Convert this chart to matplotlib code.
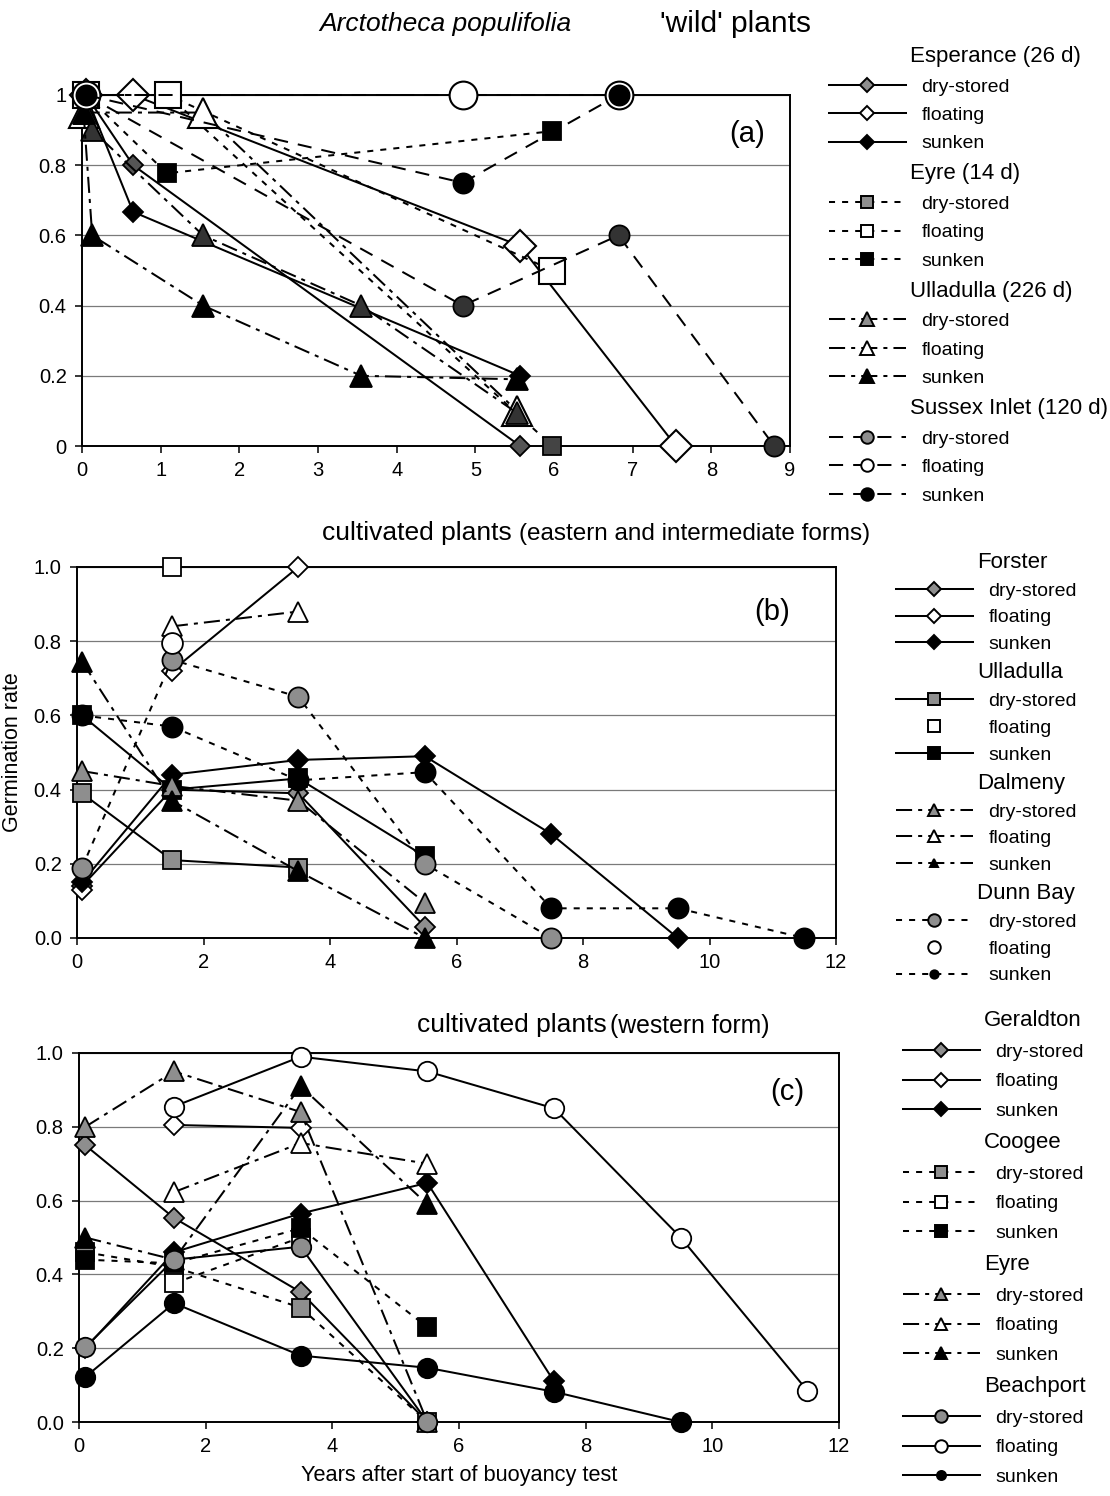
import matplotlib
matplotlib.use("Agg")
import matplotlib.pyplot as plt
from matplotlib.lines import Line2D

plt.rcParams['font.family'] = ['Liberation Sans', 'DejaVu Sans']

# ---------------- panel (a): 'wild' plants ----------------
a_esp_dry_x = [0.05, 0.65, 5.57]
a_esp_dry_y = [1.0, 0.8, 0.0]
a_esp_flo_x = [0.05, 0.65, 5.57, 7.55]
a_esp_flo_y = [1.0, 1.0, 0.57, 0.0]
a_esp_sun_x = [0.05, 0.65, 5.57]
a_esp_sun_y = [1.0, 0.667, 0.2]

a_eyr_dry_x = [0.05, 1.09, 5.98]
a_eyr_dry_y = [1.0, 1.0, 0.0]
a_eyr_flo_x = [0.05, 1.09, 5.98]
a_eyr_flo_y = [1.0, 1.0, 0.5]
a_eyr_sun_x = [0.05, 1.08, 5.98]
a_eyr_sun_y = [1.0, 0.777, 0.897]

a_ull_dry_x = [0.02, 0.13, 1.54, 3.55, 5.53]
a_ull_dry_y = [0.95, 0.9, 0.6, 0.4, 0.094]
a_ull_flo_x = [0.02, 1.54, 5.53]
a_ull_flo_y = [0.95, 0.95, 0.1]
a_ull_sun_x = [0.02, 0.13, 1.54, 3.55, 5.53]
a_ull_sun_y = [0.95, 0.6, 0.4, 0.2, 0.19]

a_sus_dry_x = [0.05, 4.84, 6.82, 8.8]
a_sus_dry_y = [1.0, 0.4, 0.6, 0.0]
a_sus_flo_x = [0.05, 4.84, 6.82]
a_sus_flo_y = [1.0, 1.0, 1.0]
a_sus_sun_x = [0.05, 4.84, 6.82]
a_sus_sun_y = [1.0, 0.75, 1.0]

# ---------------- panel (b): eastern / intermediate ----------------
b_for_dry_x = [0.08, 1.5, 3.5, 5.5]
b_for_dry_y = [0.14, 0.40, 0.39, 0.03]
b_for_flo_x = [0.08, 1.5, 3.5]
b_for_flo_y = [0.13, 0.72, 1.0]
b_for_sun_x = [0.08, 1.5, 3.5, 5.5, 7.5, 9.5]
b_for_sun_y = [0.15, 0.44, 0.48, 0.49, 0.28, 0.0]

b_ull_dry_x = [0.08, 1.5, 3.5]
b_ull_dry_y = [0.39, 0.21, 0.19]
b_ull_flo_x = [1.5]
b_ull_flo_y = [1.0]
b_ull_sun_x = [0.08, 1.5, 3.5, 5.5]
b_ull_sun_y = [0.6, 0.40, 0.43, 0.22]

b_dal_dry_x = [0.08, 1.5, 3.5, 5.5]
b_dal_dry_y = [0.45, 0.41, 0.37, 0.095]
b_dal_flo_x = [1.5, 3.5]
b_dal_flo_y = [0.84, 0.88]
b_dal_sun_x = [0.08, 1.5, 3.5, 5.5]
b_dal_sun_y = [0.745, 0.37, 0.18, 0.0]

b_dun_dry_x = [0.08, 1.5, 3.5, 5.5, 7.5]
b_dun_dry_y = [0.19, 0.75, 0.65, 0.2, 0.0]
b_dun_flo_x = [1.5]
b_dun_flo_y = [0.795]
b_dun_sun_x = [0.08, 1.5, 3.5, 5.5, 7.5, 9.5, 11.5]
b_dun_sun_y = [0.6, 0.57, 0.425, 0.447, 0.08, 0.08, 0.0]

# ---------------- panel (c): western form ----------------
c_ger_dry_x = [0.1, 1.5, 3.5, 5.5]
c_ger_dry_y = [0.75, 0.553, 0.352, 0.0]
c_ger_flo_x = [1.5, 3.5]
c_ger_flo_y = [0.805, 0.797]
c_ger_sun_x = [0.1, 1.5, 3.5, 5.5, 7.5]
c_ger_sun_y = [0.2, 0.46, 0.565, 0.648, 0.11]

c_coo_dry_x = [0.1, 1.5, 3.5, 5.5]
c_coo_dry_y = [0.46, 0.42, 0.31, 0.0]
c_coo_flo_x = [1.5, 3.5]
c_coo_flo_y = [0.376, 0.50]
c_coo_sun_x = [0.1, 1.5, 3.5, 5.5]
c_coo_sun_y = [0.44, 0.43, 0.525, 0.257]

c_eyr_dry_x = [0.1, 1.5, 3.5, 5.5]
c_eyr_dry_y = [0.80, 0.95, 0.84, 0.0]
c_eyr_flo_x = [1.5, 3.5, 5.5]
c_eyr_flo_y = [0.623, 0.756, 0.70]
c_eyr_sun_x = [0.1, 1.5, 3.5, 5.5]
c_eyr_sun_y = [0.50, 0.44, 0.91, 0.59]

c_bea_dry_x = [0.1, 1.5, 3.5, 5.5]
c_bea_dry_y = [0.203, 0.44, 0.475, 0.0]
c_bea_flo_x = [1.5, 3.5, 5.5, 7.5, 9.5, 11.5]
c_bea_flo_y = [0.855, 0.99, 0.95, 0.85, 0.5, 0.085]
c_bea_sun_x = [0.1, 1.5, 3.5, 5.5, 7.5, 9.5]
c_bea_sun_y = [0.122, 0.322, 0.18, 0.147, 0.082, 0.0]

treatments = ['dry-stored', 'floating', 'sunken']
GRAY = '#8e8e8e'
faces = {'dry-stored': GRAY, 'floating': 'white', 'sunken': 'black'}

SOLID = '-'
DOTS = (0, (3, 3.5))
DASHDOT = (0, (8, 3, 2, 3))
DASH = (0, (7, 5))

W, H = 1110, 1496
fig = plt.figure(figsize=(W / 100, H / 100), dpi=100)


def px_axes(x0, y0, x1, y1):
    return fig.add_axes([x0 / W, 1 - y1 / H, (x1 - x0) / W, (y1 - y0) / H])


def style_axes(ax, xmax, xstep, ylabels):
    ax.set_xlim(0, xmax)
    ax.set_ylim(0, 1)
    ax.set_xticks(range(0, xmax + 1, xstep))
    ax.set_yticks([0, 0.2, 0.4, 0.6, 0.8, 1.0])
    ax.set_yticklabels(ylabels)
    ax.yaxis.grid(True, color='#7a7a7a', lw=0.9)
    ax.set_axisbelow(True)
    ax.tick_params(direction='out', length=5, width=1.1, labelsize=14.5, pad=6)
    for s in ax.spines.values():
        s.set_linewidth(1.4)


def draw(ax, x, y, ls, marker, face, ms, mew=1.3, no_line=False):
    ax.plot(x, y, linestyle='none' if no_line else ls, color='black', lw=1.45,
            marker=marker, ms=ms, mfc=face, mec='black', mew=mew,
            clip_on=False, zorder=3)


def legend(ax, groups, x0, y0, spacing):
    handles, labels, heads = [], [], []
    for name, ls, marker, lms, noline in groups:
        heads.append(len(labels))
        handles.append(Line2D([], [], linestyle='none'))
        labels.append(name)
        for t in treatments:
            nl = t in noline
            handles.append(Line2D([], [], linestyle='none' if nl else ls, color='black', lw=1.45,
                                  marker=marker, ms=lms.get(t, lms['default']),
                                  mfc=faces[t], mec='black', mew=1.4))
            labels.append(t)
    leg = ax.legend(handles, labels, loc='upper left', bbox_to_anchor=(x0 / W, 1 - y0 / H),
                    bbox_transform=fig.transFigure, frameon=False, fontsize=14,
                    handlelength=3.95, handletextpad=0.8, labelspacing=spacing,
                    borderpad=0, borderaxespad=0)
    for i in heads:
        txt = leg.get_texts()[i]
        txt.set_fontsize(16)
        txt.set_position((-11, 0))
    return leg


# ---------------- (a) ----------------
ax_a = px_axes(82, 95, 790, 446)
style_axes(ax_a, 9, 1, ['0', '0.2', '0.4', '0.6', '0.8', '1'])

draw(ax_a, a_esp_dry_x, a_esp_dry_y, SOLID, 'D', '#555555', 10)
draw(ax_a, a_esp_flo_x, a_esp_flo_y, SOLID, 'D', 'white', 16, 1.5)
draw(ax_a, a_esp_sun_x, a_esp_sun_y, SOLID, 'D', 'black', 10)
draw(ax_a, a_eyr_dry_x, a_eyr_dry_y, DOTS, 's', '#444444', 13)
draw(ax_a, a_eyr_flo_x, a_eyr_flo_y, DOTS, 's', 'white', 19, 1.5)
draw(ax_a, a_eyr_sun_x, a_eyr_sun_y, DOTS, 's', 'black', 13)
draw(ax_a, a_ull_flo_x, a_ull_flo_y, DASHDOT, '^', 'white', 22, 1.5)
draw(ax_a, a_ull_dry_x, a_ull_dry_y, DASHDOT, '^', '#333333', 16)
draw(ax_a, a_ull_sun_x, a_ull_sun_y, DASHDOT, '^', 'black', 16)
draw(ax_a, a_sus_dry_x, a_sus_dry_y, DASH, 'o', '#333333', 14.5)
draw(ax_a, a_sus_flo_x, a_sus_flo_y, DASH, 'o', 'white', 20, 1.5)
draw(ax_a, a_sus_sun_x, a_sus_sun_y, DASH, 'o', 'black', 14.5)
ax_a.text(0.94, 0.89, '(a)', transform=ax_a.transAxes, fontsize=21, ha='center', va='center')

legend(ax_a, [('Esperance (26 d)', SOLID, 'D', {'default': 7}, ()),
              ('Eyre (14 d)', DOTS, 's', {'default': 9}, ()),
              ('Ulladulla (226 d)', DASHDOT, '^', {'default': 10}, ()),
              ('Sussex Inlet (120 d)', DASH, 'o', {'default': 9}, ())],
       829, 46, 0.56)

# ---------------- (b) ----------------
ax_b = px_axes(77, 567, 836, 938)
style_axes(ax_b, 12, 2, ['0.0', '0.2', '0.4', '0.6', '0.8', '1.0'])

draw(ax_b, b_for_dry_x, b_for_dry_y, SOLID, 'D', GRAY, 10)
# first floating reading stands alone (no joining segment in the original)
draw(ax_b, b_for_flo_x[:1], b_for_flo_y[:1], SOLID, 'D', 'white', 10, no_line=True)
draw(ax_b, b_for_flo_x[1:], b_for_flo_y[1:], SOLID, 'D', 'white', 10)
draw(ax_b, b_for_sun_x, b_for_sun_y, SOLID, 'D', 'black', 10)
draw(ax_b, b_ull_dry_x, b_ull_dry_y, SOLID, 's', GRAY, 13)
draw(ax_b, b_ull_flo_x, b_ull_flo_y, SOLID, 's', 'white', 13, no_line=True)
draw(ax_b, b_ull_sun_x, b_ull_sun_y, SOLID, 's', 'black', 13)
draw(ax_b, b_dal_dry_x, b_dal_dry_y, DASHDOT, '^', GRAY, 14)
draw(ax_b, b_dal_flo_x, b_dal_flo_y, DASHDOT, '^', 'white', 15)
draw(ax_b, b_dal_sun_x, b_dal_sun_y, DASHDOT, '^', 'black', 14)
draw(ax_b, b_dun_dry_x, b_dun_dry_y, DOTS, 'o', GRAY, 14.5)
draw(ax_b, b_dun_flo_x, b_dun_flo_y, DOTS, 'o', 'white', 15, no_line=True)
draw(ax_b, b_dun_sun_x, b_dun_sun_y, DOTS, 'o', 'black', 14.5)
ax_b.text(0.916, 0.88, '(b)', transform=ax_b.transAxes, fontsize=21, ha='center', va='center')
ax_b.set_ylabel('Germination rate', fontsize=15.5, labelpad=8)

legend(ax_b, [('Forster', SOLID, 'D', {'default': 7}, ()),
              ('Ulladulla', SOLID, 's', {'default': 9}, ('floating',)),
              ('Dalmeny', DASHDOT, '^', {'default': 9, 'sunken': 6}, ()),
              ('Dunn Bay', DOTS, 'o', {'default': 9, 'sunken': 6}, ('floating',))],
       896, 552, 0.47)

# ---------------- (c) ----------------
ax_c = px_axes(79, 1053, 839, 1422)
style_axes(ax_c, 12, 2, ['0.0', '0.2', '0.4', '0.6', '0.8', '1.0'])

draw(ax_c, c_ger_dry_x, c_ger_dry_y, SOLID, 'D', GRAY, 10.5)
draw(ax_c, c_ger_flo_x, c_ger_flo_y, SOLID, 'D', 'white', 10.5)
draw(ax_c, c_ger_sun_x, c_ger_sun_y, SOLID, 'D', 'black', 10.5)
draw(ax_c, c_coo_dry_x, c_coo_dry_y, DOTS, 's', GRAY, 13)
draw(ax_c, c_coo_flo_x, c_coo_flo_y, DOTS, 's', 'white', 13)
draw(ax_c, c_coo_sun_x, c_coo_sun_y, DOTS, 's', 'black', 13)
draw(ax_c, c_eyr_dry_x, c_eyr_dry_y, DASHDOT, '^', GRAY, 14)
draw(ax_c, c_eyr_flo_x, c_eyr_flo_y, DASHDOT, '^', 'white', 14)
draw(ax_c, c_eyr_sun_x, c_eyr_sun_y, DASHDOT, '^', 'black', 14)
draw(ax_c, c_bea_dry_x, c_bea_dry_y, SOLID, 'o', GRAY, 14)
draw(ax_c, c_bea_flo_x, c_bea_flo_y, SOLID, 'o', 'white', 14)
draw(ax_c, c_bea_sun_x, c_bea_sun_y, SOLID, 'o', 'black', 14)
ax_c.text(0.932, 0.894, '(c)', transform=ax_c.transAxes, fontsize=21, ha='center', va='center')
ax_c.set_xlabel('Years after start of buoyancy test', fontsize=15.7, labelpad=6)

legend(ax_c, [('Geraldton', SOLID, 'D', {'default': 7}, ()),
              ('Coogee', DOTS, 's', {'default': 9}, ()),
              ('Eyre', DASHDOT, '^', {'default': 9}, ()),
              ('Beachport', SOLID, 'o', {'default': 9, 'sunken': 6.5}, ())],
       903, 1010, 0.62)

# ---------------- titles ----------------
fig.text(445 / W, 1 - 24 / H, 'Arctotheca populifolia', style='italic', fontsize=19,
         ha='center', va='center')
fig.text(735 / W, 1 - 24 / H, "'wild' plants", fontsize=21.5, ha='center', va='center')
fig.text(322 / W, 1 - 533 / H, 'cultivated plants', fontsize=19, ha='left', va='center')
fig.text(870 / W, 1 - 534 / H, '(eastern and intermediate forms)', fontsize=17.5,
         ha='right', va='center')
fig.text(417 / W, 1 - 1025 / H, 'cultivated plants', fontsize=19, ha='left', va='center')
fig.text(770 / W, 1 - 1026 / H, '(western form)', fontsize=17.8, ha='right', va='center')

fig.savefig('out.png', dpi=100)
